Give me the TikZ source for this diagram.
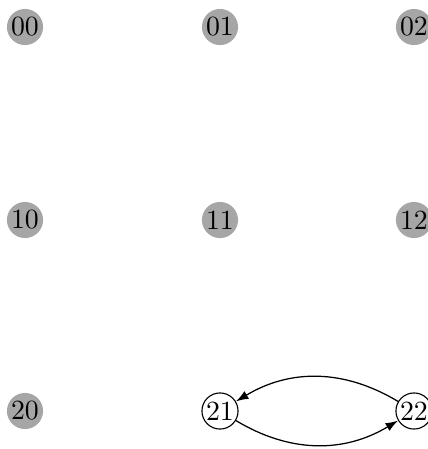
\documentclass[tikz,border=0pt]{standalone}
\usetikzlibrary{arrows.meta}
\begin{document}
\begin{tikzpicture}[x=0.36pt,y=-0.36pt,
  gnode/.style={circle,fill=black!35,inner sep=0pt,minimum size=13pt},
  wnode/.style={circle,draw=black,fill=white,inner sep=0pt,minimum size=13pt,line width=0.4pt},
  arr/.style={-{Latex[length=4.5pt,width=3.2pt]},line width=0.45pt}]
\useasboundingbox (0,0) rectangle (428,449);
\clip (0,0) rectangle (428,449);
\node[gnode] (n00) at (25,27) {00};
\node[gnode] (n01) at (220,27) {01};
\node[gnode] (n02) at (414,27) {02};
\node[gnode] (n10) at (25,220) {10};
\node[gnode] (n11) at (220,220) {11};
\node[gnode] (n12) at (414,220) {12};
\node[gnode] (n20) at (25,411) {20};
\node[wnode] (n21) at (220,411) {21};
\node[wnode] (n22) at (414,411) {22};
\draw[arr] (n22) to[bend right=31] (n21);
\draw[arr] (n21) to[bend right=31] (n22);
\end{tikzpicture}
\end{document}
